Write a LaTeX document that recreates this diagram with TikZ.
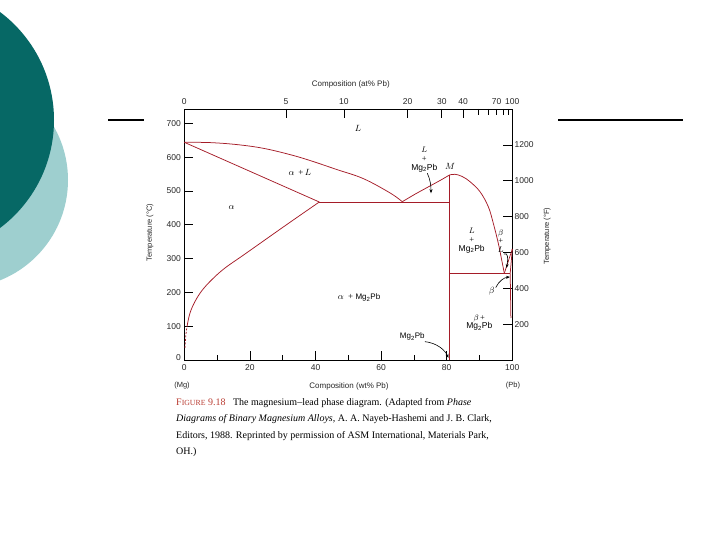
\documentclass[tikz,border=0pt]{standalone}
\usepackage{fontspec}
\setmainfont{Liberation Serif}
\setsansfont{Liberation Sans}
\usetikzlibrary{arrows.meta}
\definecolor{darkteal}{RGB}{6,104,101}
\definecolor{lightteal}{RGB}{158,207,207}
\definecolor{phasered}{RGB}{165,28,40}
\definecolor{capred}{RGB}{185,60,50}
\begin{document}
\begin{tikzpicture}[x=1pt,y=-1pt,
  phase/.style={draw=phasered,line width=0.75pt},
  axisline/.style={draw=black,line width=0.9pt},
  tickline/.style={draw=black,line width=0.8pt},
  ticklab/.style={font=\sffamily\fontsize{8.5}{10}\selectfont,text=black!85,inner sep=0pt},
  axtitle/.style={font=\sffamily\fontsize{7.5}{9}\selectfont,text=black!85,inner sep=0pt},
  comptitle/.style={font=\sffamily\fontsize{8}{9}\selectfont,text=black!85,inner sep=0pt},
  reg/.style={font=\fontsize{9}{10}\selectfont,inner sep=0pt},
  stack/.style={font=\fontsize{8.5}{8.8}\selectfont,align=center,inner sep=0pt},
  regsans/.style={font=\sffamily\fontsize{8}{9}\selectfont,inner sep=0pt},
  pointer/.style={draw=black,line width=0.6pt,-{Stealth[length=4pt,width=3pt]}},
  deco/.style={draw=black,line width=2pt}
]
\useasboundingbox (0,0) rectangle (720,540);
% decorative circles
\begin{scope}
\clip (0,0) rectangle (720,540);
\fill[lightteal] (-40,180) circle[radius=108];
\fill[darkteal] (-81,120) circle[radius=135];
\end{scope}
\draw[deco] (108,120) -- (144,120);
\draw[deco] (558,120) -- (683,120);

% axis box
\draw[axisline] (184.3,109) rectangle (512.3,360);

% top ticks (at% Pb)
\foreach \x in {285.9,343.9,407.5,441.8,463.2}
  \draw[tickline] (\x,109) -- (\x,118);
\foreach \x in {477.9,488.5,496.6,503.0,508.1}
  \draw[tickline] (\x,109) -- (\x,115);
\foreach \x/\t [count=\i] in {184.3/0,285.9/5,343.9/10,407.5/20,441.8/30,463.2/40,496.6/70,512.3/100}
  \node[ticklab] (tt\i) at (\x,102) {\t};
\node[comptitle] (ttitle) at (350.8,84) {Composition (at\% Pb)};

% bottom ticks (wt% Pb)
\foreach \x in {249.9,315.5,381.1,446.7}
  \draw[tickline] (\x,360) -- (\x,351);
\foreach \x in {217.1,282.7,348.3,413.9,479.5}
  \draw[tickline] (\x,360) -- (\x,355);
\foreach \x/\t [count=\i] in {184.3/0,249.9/20,315.5/40,381.1/60,446.7/80,512.3/100}
  \node[ticklab] (bt\i) at (\x,367.3) {\t};
\node[axtitle] (mg) at (182,386) {(Mg)};
\node[axtitle] (pb) at (513,386) {(Pb)};
\node[comptitle] (btitle) at (349,386) {Composition (wt\% Pb)};

% left ticks (deg C)
\foreach \t [count=\i] in {100,200,300,400,500,600,700}{
  \draw[tickline] (184.3,{360-0.338*\t}) -- (193.3,{360-0.338*\t});
  \node[ticklab,anchor=east] (lt\i) at (181,{360-0.338*\t}) {\t};
}
\node[ticklab,anchor=east] (lt0) at (181,357.5) {0};
\node[axtitle,rotate=90] (ltitle) at (150,232.5) {Temperature (\textdegree C)};

% right ticks (deg F)
\foreach \f [count=\i] in {200,400,600,800,1000,1200}{
  \draw[tickline] (503.3,{324.3-0.1794*(\f-200)}) -- (512.3,{324.3-0.1794*(\f-200)});
  \node[ticklab,anchor=west] (rt\i) at (514.5,{324.3-0.1794*(\f-200)}) {\f};
}
\node[axtitle,rotate=90] (rtitle) at (547.3,236) {Temperature (\textdegree F)};

% phase boundaries
\draw[phase] plot[smooth,tension=0.6] coordinates {(184.3,142.3) (210,142.6) (237,144.6) (263.3,148.3) (290,154.6) (310,160.5) (337,169.6) (363.3,178.6) (390,192.9) (402.3,201.7)};
\draw[phase] plot[smooth,tension=0.6] coordinates {(402.3,201.7) (415,194.2) (427,187.6) (440,180.5) (449.5,175)};
\draw[phase] plot[smooth,tension=0.6] coordinates {(449.5,175) (455,174.3) (462,176.4) (470,181.7) (480,191.7) (488.3,206.7) (493.3,223.3) (498.3,243.3) (501.7,260) (504.3,273.3)};
\draw[phase] (184.3,142.3) -- (319.3,202);
\draw[phase] (319.3,202) -- (449.5,202);
\draw[phase] plot[smooth,tension=0.6] coordinates {(319.3,202) (286.7,224.6) (245,254) (225,268) (212,279.5) (202,290.5) (195,301.5) (190,313) (187.3,325)};
\draw[phase,dashed,dash pattern=on 2pt off 1.5pt] (187.3,325) .. controls (185.8,333) and (185.3,341) .. (185,349);
\draw[phase] (449.5,175) -- (449.5,360);
\draw[phase] (449.5,273.3) -- (510.2,273.3);
\draw[phase] (504.3,273.3) -- (512.3,249);
\draw[phase] (510.2,273.3) -- (512.3,249);
\draw[phase] (510.2,273.3) -- (510.9,318);

% region labels
\node[reg] (liq) at (358,128) {$L$};
\node[reg] (al) at (300,172.7) {$\alpha$\ \,+\,$L$};
\node[reg] (alpha) at (231.7,207.3) {$\alpha$};
\node[reg] (amg) at (359,297.7) {$\alpha$\ \ + \textsf{\fontsize{8}{9}\selectfont Mg\textsubscript{2}Pb}};
\node[stack] (lmu) at (424.3,159.6) {$L$\\+\\\textsf{Mg\textsubscript{2}Pb}};
\node[reg] (mpt) at (450,166.7) {$M$};
\node[stack] (lml) at (471.7,240.5) {$L$\\+\\\textsf{Mg\textsubscript{2}Pb}};
\node[stack] (bl) at (500.7,241.2) {$\beta$\\+\\$L$};
\node[reg] (beta) at (491.7,291.7) {$\beta$};
\node[stack] (bmg) at (479.3,322.7) {$\beta$\,+\\\textsf{Mg\textsubscript{2}Pb}};
\node[regsans] (mgl) at (412.3,336.7) {Mg\textsubscript{2}Pb};

% pointers
\coordinate (p1) at (431,193.3);
\coordinate (p2) at (448.5,358);
\coordinate (p3) at (506.6,268);
\coordinate (p4) at (510,277);
\draw[pointer] ([xshift=3pt,yshift=-1pt]lmu.south) .. controls (430.5,180) and (431,186) .. (p1);
\draw[pointer] ([yshift=-1pt]mgl.south east) .. controls (437,343) and (445,350) .. (p2);
\draw[pointer] ([yshift=-1pt]bl.south east) .. controls (508.5,252) and (508,259) .. (p3);
\draw[pointer] ([xshift=1pt]beta.north east) .. controls (499,281) and (504,277.5) .. (p4);

% caption
\node[anchor=north west,inner sep=0pt,align=left,font=\fontsize{10}{16.5}\selectfont] (cap) at (176,398)
{\textcolor{capred}{F{\fontsize{7.8}{9}\selectfont IGURE} 9.18}\enspace\ The magnesium--lead phase diagram. (Adapted from \textit{Phase}\\
\textit{Diagrams of Binary Magnesium Alloys,} A. A. Nayeb-Hashemi and J. B. Clark,\\
Editors, 1988. Reprinted by permission of ASM International, Materials Park,\\
OH.)};
\end{tikzpicture}
\end{document}
